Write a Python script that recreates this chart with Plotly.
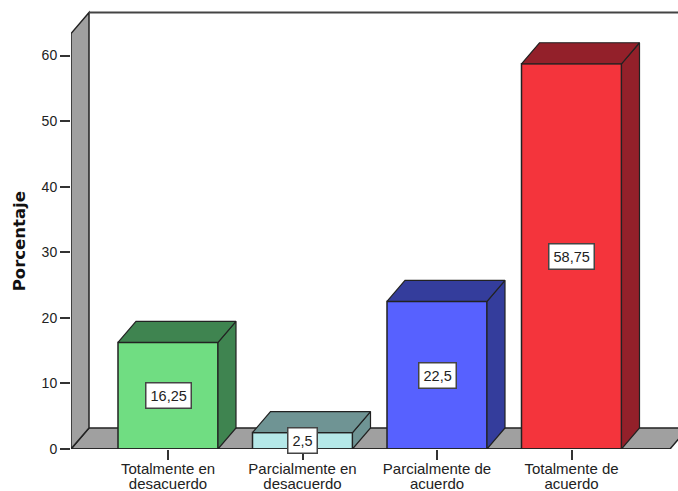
import plotly.graph_objects as go

categories = [["Totalmente en", "desacuerdo"], ["Parcialmente en", "desacuerdo"],
              ["Parcialmente de", "acuerdo"], ["Totalmente de", "acuerdo"]]
values = [16.25, 2.5, 22.5, 58.75]
labels = ["16,25", "2,5", "22,5", "58,75"]
front_colors = ["#70DD82", "#B5E8E8", "#5761FF", "#F4343C"]
side_colors = ["#3F8450", "#6F9494", "#343D9C", "#93202A"]
y_ticks = [0, 10, 20, 30, 40, 50, 60]

W, H = 678, 491
px_x, px_y = 134.5, 6.55          # pixels per data unit
x_first, y_zero = 168, 449        # pixel of first category and of y=0
DX, DY = 18 / px_x, 21 / px_y     # oblique depth in data units
BW = 100 / px_x
XMIN = (71 - x_first) / px_x
XMAX = (W - x_first) / px_x
YTOP = (y_zero - 34) / px_y
YMAX = 66.95
INK = "#222222"
GREY = "#A0A0A0"

positions = list(range(len(values)))
fig = go.Figure()

fig.add_trace(go.Bar(x=positions, y=values, width=BW,
                     marker=dict(color=front_colors, line=dict(color=INK, width=1.5)),
                     cliponaxis=False, showlegend=False, hoverinfo="skip"))

for p, v, c in zip(positions, values, side_colors):
    l, r = p - BW / 2, p + BW / 2
    fig.add_trace(go.Scatter(x=[r, r + DX, r + DX, r, r], y=[0, DY, v + DY, v, 0],
                             mode="lines", fill="toself", fillcolor=c,
                             line=dict(color=INK, width=1.2), showlegend=False, hoverinfo="skip"))
    fig.add_trace(go.Scatter(x=[l, r, r + DX, l + DX, l], y=[v, v, v + DY, v + DY, v],
                             mode="lines", fill="toself", fillcolor=c,
                             line=dict(color=INK, width=1.2), showlegend=False, hoverinfo="skip"))

fx = (670 - x_first) / px_x

# front edge of the floor
fig.add_trace(go.Scatter(x=[XMIN, fx], y=[0, 0], mode="lines",
                         line=dict(color=INK, width=1.5), cliponaxis=False,
                         showlegend=False, hoverinfo="skip"))

def poly(pts):
    return "M " + " L ".join(f"{x},{y}" for x, y in pts) + " Z"

shapes = [
    dict(type="path", layer="below", xref="x", yref="y", fillcolor=GREY,
         line=dict(color=INK, width=1.5),
         path=poly([(XMIN, 0), (XMIN + DX, DY), (fx + DX, DY), (fx, 0)])),
    dict(type="path", layer="below", xref="x", yref="y", fillcolor=GREY,
         line=dict(color=INK, width=1.5),
         path=poly([(XMIN, 0), (XMIN, YTOP), (XMIN + DX, YTOP + DY), (XMIN + DX, DY)])),
    dict(type="line", layer="below", xref="x", yref="y",
         x0=XMIN + DX, x1=XMAX, y0=YTOP + DY, y1=YTOP + DY,
         line=dict(color="#444444", width=2)),
]

annotations = [
    dict(x=p, y=v / 2, text=t, showarrow=False, xref="x", yref="y",
         bgcolor="white", bordercolor="#444444", borderwidth=1.5, borderpad=4,
         font=dict(family="Liberation Sans", size=14.5, color="#222222"))
    for p, v, t in zip(positions, values, labels)
]
plot_h = YMAX * px_y
annotations.append(dict(x=(8 - 71) / (W - 71), y=(y_zero - 242) / plot_h,
                        xref="paper", yref="paper", text="<b>Porcentaje</b>",
                        textangle=-90, showarrow=False,
                        font=dict(family="DejaVu Sans", size=16.5, color="#111111")))

ticktext = ["<br>".join(f'<span style="font-size:15px">{s}</span>' for s in c) for c in categories]

fig.update_layout(
    width=W, height=H, paper_bgcolor="white", plot_bgcolor="white",
    margin=dict(l=71, r=0, b=H - y_zero, t=H - (H - y_zero) - plot_h, pad=0),
    shapes=shapes, annotations=annotations, showlegend=False,
    xaxis=dict(range=[XMIN, XMAX], tickvals=positions, ticktext=ticktext, automargin=False,
               ticks="outside", ticklen=10, tickwidth=1.5, tickcolor="#333333",
               showgrid=False, zeroline=False, showline=False,
               tickfont=dict(family="Liberation Sans", size=11.5, color="#222222")),
    yaxis=dict(range=[0, YMAX], tickvals=y_ticks, ticks="outside", ticklen=10, tickwidth=1.5,
               automargin=False, tickcolor="#333333", showgrid=False, zeroline=False, showline=False,
               tickfont=dict(family="Liberation Sans", size=14, color="#222222")),
)

fig.write_html("out.html", config={"displayModeBar": False},
               post_script="document.body.style.margin='0';")
